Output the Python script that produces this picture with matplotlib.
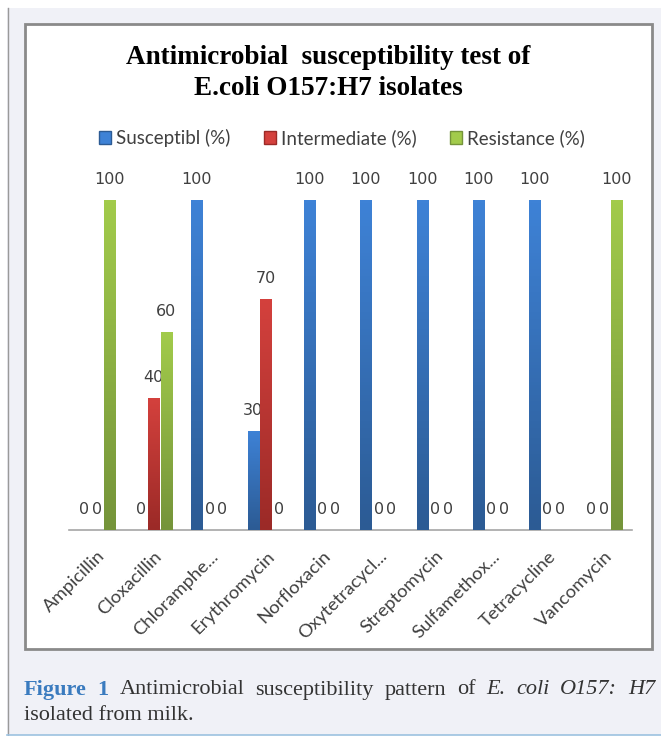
import matplotlib.pyplot as plt
import numpy as np
from matplotlib.patches import Rectangle, Patch
from matplotlib.colors import LinearSegmentedColormap

drugs = ["Ampicillin", "Cloxacillin", "Chloramphe...", "Erythromycin", "Norfloxacin",
         "Oxytetracycl...", "Streptomycin", "Sulfamethox...", "Tetracycline", "Vancomycin"]
susceptible = [0, 0, 100, 30, 100, 100, 100, 100, 100, 0]
intermediate = [0, 40, 0, 70, 0, 0, 0, 0, 0, 0]
resistance = [100, 60, 0, 0, 0, 0, 0, 0, 0, 100]
series_names = ["Susceptibl (%)", "Intermediate (%)", "Resistance (%)"]

# gradient (top, bottom) for each series
grads = [("#3e82d6", "#2c5b94"), ("#d4413d", "#9b2a27"), ("#a2cb4b", "#75943a")]

W, H = 661, 736
fig = plt.figure(figsize=(W / 100, H / 100), dpi=100)
fig.patch.set_facecolor("white")


def fx(px):
    return px / W


def fy(py):
    return 1 - py / H


# outer page panel
fig.patches.append(Rectangle((fx(7), fy(735)), 1, fy(8) - fy(735), transform=fig.transFigure,
                             facecolor="#f0f1f7", edgecolor="none", zorder=0))
fig.add_artist(plt.Line2D([fx(7.5), fx(7.5)], [fy(8), fy(735)], transform=fig.transFigure,
                          color="#9a9a9a", lw=1))
fig.add_artist(plt.Line2D([fx(7), 1], [fy(734.5), fy(734.5)], transform=fig.transFigure,
                          color="#9cc2e0", lw=1.2))
# white chart box
fig.patches.append(Rectangle((fx(25), fy(649)), fx(652) - fx(25), fy(24) - fy(649),
                             transform=fig.transFigure, facecolor="white",
                             edgecolor="#8a8a8a", lw=2, zorder=1))

ax = fig.add_axes([fx(69), fy(530), fx(632) - fx(69), fy(200) - fy(530)])
ax.set_facecolor("none")
ax.set_zorder(2)

x = np.arange(len(drugs))
offsets = [-0.227, 0, 0.227]
width = 0.2
data = [susceptible, intermediate, resistance]

for vals, off, (top, bot) in zip(data, offsets, grads):
    cmap = LinearSegmentedColormap.from_list("g", [bot, top])
    bars = ax.bar(x + off, vals, width, color=top, edgecolor="none")
    for b, v in zip(bars, vals):
        if v > 0:
            img = ax.imshow(np.linspace(0, 1, 100).reshape(-1, 1), cmap=cmap, origin="lower",
                            extent=(b.get_x(), b.get_x() + b.get_width(), 0, v),
                            aspect="auto", zorder=3)
            img.set_clip_path(b)
        ax.text(b.get_x() + b.get_width() / 2, v + 4, str(v), ha="center", va="bottom",
                fontsize=11.5, color="#404040", family="DejaVu Sans", clip_on=False)

ax.set_xlim(-0.5, len(drugs) - 0.5)
ax.set_ylim(0, 100)
ax.set_yticks([])
for s in ["top", "right", "left"]:
    ax.spines[s].set_visible(False)
ax.spines["bottom"].set_color("#a6a6a6")
ax.spines["bottom"].set_linewidth(1.2)
ax.set_xticks(x)
ax.set_xticklabels(drugs, rotation=45, ha="right", va="top", rotation_mode="anchor",
                   fontsize=13.3, color="#404040", family="Lato")
ax.tick_params(axis="x", length=0, pad=13)

# title
fig.text(fx(328), fy(73), "Antimicrobial  susceptibility test of\nE.coli O157:H7 isolates",
         ha="center", va="center", fontsize=19.5, fontweight="bold", family="Liberation Serif",
         linespacing=1.35, color="black")

# legend
handles = [Patch(facecolor=g[0], edgecolor=g[1]) for g in grads]
fig.legend(handles, series_names, loc="center", bbox_to_anchor=(fx(342), fy(138)), ncol=3,
           frameon=False, handlelength=0.65, handleheight=0.65, handletextpad=0.25,
           columnspacing=1.8, prop={"family": "Lato", "size": 13.5}, labelcolor="#404040")

# caption, first line justified
line1 = [("Figure", "#3a7bbf", "bold", "normal"), ("1", "#3a7bbf", "bold", "normal"),
         ("Antimicrobial", "#333333", "normal", "normal"),
         ("susceptibility", "#333333", "normal", "normal"),
         ("pattern", "#333333", "normal", "normal"), ("of", "#333333", "normal", "normal"),
         ("E.", "#333333", "normal", "italic"), ("coli", "#333333", "normal", "italic"),
         ("O157:", "#333333", "normal", "italic"), ("H7", "#333333", "normal", "italic")]
renderer = fig.canvas.get_renderer()
texts = []
for word, col, wt, st in line1:
    t = fig.text(0, fy(690), word, color=col, fontweight=wt, fontstyle=st, fontsize=16,
                 family="Liberation Serif", va="center", ha="left")
    texts.append(t)
widths = [t.get_window_extent(renderer).width for t in texts]
left, right = 24, 655
gap = (right - left - sum(widths)) / (len(texts) - 1)
pos = left
for t, w in zip(texts, widths):
    t.set_x(fx(pos))
    pos += w + gap
fig.text(fx(24), fy(716), "isolated from milk.", color="#333333", fontsize=16,
         family="Liberation Serif", va="center", ha="left")

fig.savefig("out.png", dpi=100)
